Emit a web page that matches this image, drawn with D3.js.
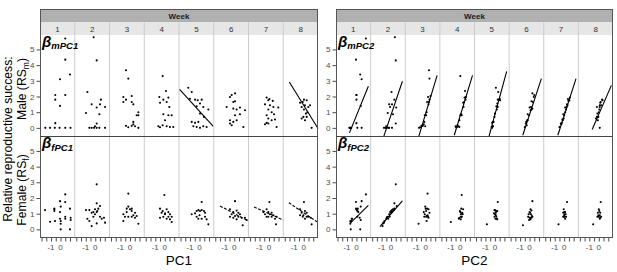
<!DOCTYPE html>
<html lang="en">
<head>
<meta charset="UTF-8" />
<title>Relative reproductive success by week</title>
<script src="https://cdn.jsdelivr.net/npm/d3@7"></script>
<style>
  body { margin: 0; background: #fff; }
  text { font-family: "Liberation Sans", Arial, sans-serif; }
  .dot { fill: #000; }
  .fit { stroke: #000; stroke-width: 1.1px; fill: none; }
  .tick-label { font-size: 8px; fill: #4d4d4d; }
</style>
</head>
<body>
<script>
// ---- data ----
var weeks = [1, 2, 3, 4, 5, 6, 7, 8];

// males: relative RS, PC1 score, PC2 score (one entry per individual)
var maleRS = [
  [0,0,0,0,0,0,0.3,1.8,2.1,1.4,2.1,3.1,3.4,4.35,5.7],
  [5.78,4.3,2.29,1.5,1.8,1.5,1.3,1.33,0.87,0.95,0.28,0,0,0,0,0,0,0.1],
  [3.67,3.14,1.97,1.8,2.03,1.65,1.65,1.5,1.0,0.8,0.8,0.38,0.13,0.04,0.13,0.23,0.1,0.0],
  [3.3,2.35,1.97,1.8,1.93,1.6,1.33,1.65,0.87,0.8,0.8,0.49,0.17,0.1,0.04,0.1,0.06,0.06],
  [2.56,2.29,1.86,1.8,1.76,1.8,1.55,1.38,1.33,1.17,0.91,0.7,0.38,0.32,0.38,0.1,0.06,0.1,0.06,0.0],
  [2.1,2.2,1.97,1.65,1.7,1.33,1.23,1.17,1.3,1.12,0.8,0.87,0.49,0.38,0.49,0.28,0.17,0.06],
  [1.93,1.84,1.76,1.72,1.5,1.44,1.33,1.3,1.17,1.0,0.8,0.87,0.6,0.49,0.53,0.32,0.28,0.23,0.06],
  [1.8,1.65,1.76,1.6,1.44,1.44,1.33,1.17,0.91,0.7,0.7,0.49,0.6,0.0,1.33,1.0]
];
var malePC1 = [
  [-1.6,-1.1,-0.6,-0.1,0.5,1.05,-0.55,-0.55,-0.55,-0.05,0.5,-0.05,1.0,0.5,0.5],
  [-0.17,0.15,-0.83,-0.38,0.6,0.5,0.15,1.03,0.43,-0.97,0.15,-0.62,-0.38,-0.13,0.15,0.43,1.03,-0.03],
  [-0.42,-0.18,-0.7,-0.42,0.18,-0.7,0.18,0.35,0.88,0.7,0.88,0.35,-0.42,-0.18,0.18,0.35,0.53,0.88],
  [-0.22,0.13,-0.57,-0.15,0.38,-0.5,0.48,0.2,-0.15,0.38,0.73,0.03,-0.22,-0.68,-0.5,0.2,0.55,0.9],
  [-1.18,-0.82,-1.0,-0.47,-0.19,0.23,0.05,-0.3,0.4,0.93,0.05,0.47,-0.82,-0.47,-0.12,-0.65,-0.3,0.4,0.75,0.05],
  [-0.27,0.08,-0.45,-0.1,0.08,-0.8,-0.1,0.25,0.6,1.13,0.08,0.6,-0.45,-0.1,0.25,-0.45,-0.27,0.96],
  [-0.25,0.04,-0.07,0.39,-0.42,0.1,0.46,0.98,-0.07,0.28,-0.25,0.53,-0.07,0.28,0.63,-0.25,-0.07,-0.42,0.8],
  [0.02,-0.11,0.31,-0.39,0.13,0.66,-0.22,0.02,0.23,-0.04,0.31,0.13,-0.22,0.83,0.48,0.38]
];
var malePC2 = [
  [-0.75,-0.65,-0.55,0.1,0.55,-0.7,0,0,0,0.45,0,0.55,0.4,-0.05,1.0],
  [0.4,0.5,0.05,-0.2,0.35,0.1,0.55,-0.1,0.2,-0.35,0.5,-0.75,-0.6,-0.45,-0.3,-0.2,0.1,-0.5],
  [0.35,0.4,0.25,0.4,0.5,0.15,0.35,0.3,0.1,-0.1,0.05,-0.15,-0.3,-0.6,-0.45,-0.2,-0.05,-0.7],
  [0.0,0.5,0.6,0.55,0.45,0.3,0.35,0.4,0.1,0.15,0.0,-0.1,-0.3,-0.5,-0.45,-0.2,-0.1,-0.35],
  [0.1,0.35,0.5,0.3,0.55,0.45,0.25,0.15,0.3,0.2,0.0,-0.05,-0.2,-0.3,-0.15,-0.25,-0.35,-0.2,-0.3,-0.3],
  [0.5,0.3,0.45,0.35,0.2,0.15,0.3,0.2,0.0,0.1,-0.05,-0.2,-0.25,-0.35,-0.2,-0.4,-0.3,-0.5],
  [0.6,0.4,0.55,0.45,0.3,0.35,0.25,0.1,0.2,0.1,0.0,-0.1,-0.05,-0.15,-0.2,-0.25,-0.35,-0.3,-0.5],
  [0.35,0.2,0.4,0.15,0.1,0.25,-0.2,0.05,-0.15,-0.05,-0.2,-0.1,-0.3,0.1,0.1,0.0]
];

// females
var femaleRS = [
  [1.23,1.28,1.32,1.17,0.49,0.53,1.8,1.45,1.1,0.68,0.53,0.36,0.0,2.23,1.74,0.8,0.68,1.32,0.74,0.6,0.0],
  [2.87,1.23,1.23,1.06,0.68,0.53,0.21,0.8,0.96,1.1,1.32,1.49,1.66,0.8,0.68,0.74,0.43,0.38,1.28,1.17,1.1],
  [2.28,0.96,0.8,0.53,1.32,1.45,1.28,1.17,0.9,0.8,0.8,1.06,0.74,0.85,0.36,1.32,1.1],
  [2.19,1.32,1.17,1.02,1.28,1.1,0.96,0.8,0.74,0.8,0.68,0.64,0.47,0.96,1.06,0.8],
  [1.74,0.96,1.17,1.23,1.17,1.23,1.17,1.06,0.8,0.68,0.68,0.8,0.64,0.32,0.9,1.02],
  [1.8,1.28,1.1,1.2,1.06,0.96,0.96,0.85,0.8,0.74,0.74,0.6,0.26,0.74,0.8,0.64],
  [1.74,1.28,1.1,1.1,1.06,0.96,0.96,0.9,0.8,0.68,0.8,0.8,0.32,0.8],
  [1.74,1.28,1.06,1.17,1.06,0.9,0.9,0.8,0.8,0.74,0.68,0.32,0.8]
];
var femalePC1 = [
  [-1.63,-0.65,-0.65,-0.65,-1.1,-0.58,-0.05,0.02,-0.05,-0.05,0.02,0.02,0.02,0.5,0.5,0.5,0.5,1.0,1.07,1.07,1.0],
  [0.15,-0.97,-0.62,-0.38,-0.83,-0.62,-0.38,-0.2,-0.03,0.15,0.32,0.5,0.15,0.5,0.68,0.92,1.03,0.15,-0.03,0.22,-0.2],
  [-0.18,-0.7,-0.53,-0.7,-0.35,-0.18,0,0.18,0.35,-0.18,0.18,0.53,0.53,0.7,0.88,0.18,-0.35],
  [-0.04,-0.5,-0.22,0.03,0.2,0.38,0.55,0.73,-0.5,-0.15,0.2,0.55,0.73,0.03,-0.33,0.38],
  [0.23,-0.82,-0.3,-0.12,0.05,0.23,0.47,0.58,-0.3,-0.12,0.23,0.58,0.75,0.93,0,-0.47],
  [0.08,-0.45,-0.1,0.25,0.43,0.6,-0.27,0.08,0.43,0.78,1.13,1.31,0.89,-0.1,-0.45,0.25],
  [0.04,-0.25,-0.6,-0.07,0.28,-0.42,0.1,0.46,0.8,0.63,-0.07,0.28,0.74,-0.25],
  [0.02,-0.39,-0.22,0.13,0.31,-0.04,-0.39,0.31,0.48,0.73,0.13,0.83,-0.11]
];
var femalePC2 = [
  [0.05,0.0,-0.05,0.1,-0.6,-0.55,0.55,0.45,0.2,-0.5,-0.65,-0.65,-0.6,1.0,-0.05,0.1,-0.45,0.15,0.35,0.45,0.4],
  [0.5,0.3,0.1,0.0,-0.5,-0.7,-0.9,-0.4,-0.2,0.1,0.35,0.6,0.35,-0.15,-0.3,-0.45,-0.75,-0.85,0.2,0.0,-0.1],
  [0.2,-0.1,0.05,0.1,0.15,-0.05,0.3,0.05,0.2,-0.15,0.25,0.4,0.3,0.1,-0.75,0.0,-0.2],
  [0.15,0.1,-0.05,0.2,0.3,0.0,0.25,0.1,-0.1,0.15,-0.15,0.05,-1.0,0.05,0.2,0.1],
  [0.3,0.0,0.1,-0.05,0.2,0.0,0.25,0.1,-0.05,0.05,0.2,0.15,0.25,-0.85,0.1,-0.1],
  [0.3,0.1,0.0,0.2,0.05,-0.1,0.15,0.25,0.3,0.0,0.1,-0.05,-0.7,0.2,-0.15,0.1],
  [0.3,-0.05,0.0,0.1,-0.1,0.05,0.15,0.0,-0.05,0.1,0.05,0.2,-0.6,-0.1],
  [0.2,0.0,-0.1,0.05,0.15,-0.05,0.1,0.25,0.0,0.15,0.1,-0.6,-0.15]
];

// fitted lines per week: [x0, y0, x1, y1] or null
var fitMalePC1 = [null, null, null, null, [-2.1,2.45,1.45,0.1], null, null, [-1.52,2.92,1.5,-0.04]];
var fitMalePC2 = [
  [-0.74,-0.32,1.26,2.65], [-0.76,-0.53,1.2,2.97], [-0.72,-0.53,1.21,3.35], [-0.64,-0.47,1.29,3.35],
  [-0.62,-0.53,1.24,3.6], [-0.72,-0.47,1.25,3.14], [-0.67,-0.47,1.25,3.14], [-0.7,-0.1,1.33,2.71]
];
var fitFemalePC1 = [null, null, null, null, null, [-1.5,1.49,1.5,0.53], [-1.58,1.43,1.5,0.6], [-1.57,1.7,1.5,0.44]];
var fitFemalePC2 = [[-0.67,0.38,1.26,1.53], [-1.18,0.17,1.2,1.81], null, null, null, null, null, null];

var yTicks = [0, 1, 2, 3, 4, 5];
var xTicks = [-2, -1.5, -1, -0.5, 0, 0.5, 1];
var xTickLabels = [-1, 0];

// ---- layout ----
var w = 617, h = 272;
var stripTop = 9, stripMid = 22, plotTop = 35, rowMid = 136.5, plotBottom = 238;

var svg = d3.select("body").append("svg")
  .attr("width", w)
  .attr("height", h);

var yTop = d3.scaleLinear().domain([-0.55, 5.92]).range([rowMid, plotTop]);
var yBot = d3.scaleLinear().domain([-0.55, 5.92]).range([plotBottom, rowMid]);

var panels = [
  { x0: 40, x1: 318, pc: "PC1", top: malePC1, bot: femalePC1, fitTop: fitMalePC1, fitBot: fitFemalePC1, dashBot: true },
  { x0: 336, x1: 613, pc: "PC2", top: malePC2, bot: femalePC2, fitTop: fitMalePC2, fitBot: fitFemalePC2, dashBot: false }
];

panels.forEach(function(p) {
  var g = svg.append("g");
  var band = d3.scaleBand().domain(weeks).range([p.x0, p.x1]);
  var bw = band.bandwidth();

  // strips
  g.append("rect").attr("x", p.x0).attr("y", stripTop).attr("width", p.x1 - p.x0).attr("height", stripMid - stripTop)
    .attr("fill", "#b0b0b0");
  g.append("rect").attr("x", p.x0).attr("y", stripMid).attr("width", p.x1 - p.x0).attr("height", plotTop - stripMid)
    .attr("fill", "#e6e6e6");
  g.append("text").attr("x", (p.x0 + p.x1) / 2).attr("y", stripMid - 3.5)
    .attr("text-anchor", "middle").attr("font-size", "8px").attr("font-weight", "bold").attr("fill", "#1a1a1a")
    .text("Week");

  weeks.forEach(function(wk, i) {
    var left = band(wk);
    var xs = d3.scaleLinear().domain([-2.16, 1.5]).range([left, left + bw]);

    g.append("text").attr("x", left + bw / 2).attr("y", plotTop - 3.5)
      .attr("text-anchor", "middle").attr("font-size", "8px").attr("fill", "#333")
      .text(wk);

    if (i > 0) {
      g.append("line").attr("x1", left).attr("x2", left).attr("y1", stripMid).attr("y2", plotBottom)
        .attr("stroke", "#cccccc").attr("stroke-width", 1);
    }

    // male points
    var md = maleRS[i].map(function(v, j) { return { x: p.top[i][j], y: v }; });
    g.selectAll(null).data(md).enter().append("circle")
      .attr("class", "dot")
      .attr("cx", function(d) { return xs(d.x); })
      .attr("cy", function(d) { return yTop(d.y); })
      .attr("r", 1.05);

    // female points
    var fd = femaleRS[i].map(function(v, j) { return { x: p.bot[i][j], y: v }; });
    g.selectAll(null).data(fd).enter().append("circle")
      .attr("class", "dot")
      .attr("cx", function(d) { return xs(d.x); })
      .attr("cy", function(d) { return yBot(d.y); })
      .attr("r", 1.05);

    var ft = p.fitTop[i];
    if (ft) {
      g.append("line").attr("class", "fit")
        .attr("x1", xs(ft[0])).attr("y1", yTop(ft[1]))
        .attr("x2", xs(ft[2])).attr("y2", yTop(ft[3]));
    }
    var fb = p.fitBot[i];
    if (fb) {
      g.append("line").attr("class", "fit")
        .attr("stroke-dasharray", p.dashBot ? "3,1.5" : null)
        .attr("x1", xs(fb[0])).attr("y1", yBot(fb[1]))
        .attr("x2", xs(fb[2])).attr("y2", yBot(fb[3]));
    }

    // x axis: minor tick marks, then the two labelled values
    var ax = g.append("g").attr("transform", "translate(0," + plotBottom + ")")
      .call(d3.axisBottom(xs).tickValues(xTicks).tickSize(3.5).tickFormat(""));
    ax.select(".domain").remove();
    ax.selectAll("text").remove();
    ax.selectAll("line").attr("stroke", "#4d4d4d");

    g.selectAll(null).data(xTickLabels).enter().append("text")
      .attr("class", "tick-label")
      .attr("x", function(d) { return xs(d); })
      .attr("y", plotBottom + 11.8)
      .attr("text-anchor", "middle")
      .text(function(d) { return String(d); });
  });

  // y axes
  [yTop, yBot].forEach(function(ys) {
    var yAxis = d3.axisLeft(ys).tickValues(yTicks).tickSize(3.5).tickFormat(d3.format("d"));
    var ay = g.append("g").attr("transform", "translate(" + p.x0 + ",0)").call(yAxis);
    ay.select(".domain").remove();
    ay.selectAll("line").attr("stroke", "#4d4d4d");
    ay.selectAll("text").attr("class", "tick-label").attr("x", -5.5)
      .attr("font-family", null).attr("font-size", null);
  });

  // borders
  g.append("rect").attr("x", p.x0 + 0.5).attr("y", stripTop + 0.5)
    .attr("width", p.x1 - p.x0 - 1).attr("height", plotBottom - stripTop - 1)
    .attr("fill", "none").attr("stroke", "#555").attr("stroke-width", 1);
  g.append("line").attr("x1", p.x0).attr("x2", p.x1).attr("y1", rowMid).attr("y2", rowMid)
    .attr("stroke", "#444").attr("stroke-width", 1);

  // beta labels
  [["m", plotTop + 11.5], ["f", rowMid + 11.5]].forEach(function(b) {
    var t = g.append("text").attr("x", p.x0 + 2).attr("y", b[1])
      .attr("font-weight", "bold").attr("font-style", "italic").attr("fill", "#000");
    t.append("tspan").attr("font-size", "15px").text("\u03B2");
    t.append("tspan").attr("font-size", "9.5px").attr("dy", 2.5).text(b[0] + p.pc);
  });

  // x title
  g.append("text").attr("x", (p.x0 + p.x1) / 2).attr("y", 264.5)
    .attr("text-anchor", "middle").attr("font-size", "13.5px").attr("fill", "#000")
    .text(p.pc);
});

// y titles
svg.append("text")
  .attr("transform", "translate(12,139) rotate(-90)")
  .attr("text-anchor", "middle").attr("font-size", "12.2px").attr("fill", "#000")
  .text("Relative reproductive success:");

var male = svg.append("text")
  .attr("transform", "translate(25.5,89) rotate(-90)")
  .attr("text-anchor", "middle").attr("font-size", "12.2px").attr("fill", "#000");
male.append("tspan").text("Male (RS");
male.append("tspan").attr("font-size", "8.5px").attr("dy", 3).text("m");
male.append("tspan").attr("dy", -3).text(")");

var female = svg.append("text")
  .attr("transform", "translate(25.5,190) rotate(-90)")
  .attr("text-anchor", "middle").attr("font-size", "12.2px").attr("fill", "#000");
female.append("tspan").text("Female (RS");
female.append("tspan").attr("font-size", "8.5px").attr("dy", 3).text("f");
female.append("tspan").attr("dy", -3).text(")");
</script>
</body>
</html>
